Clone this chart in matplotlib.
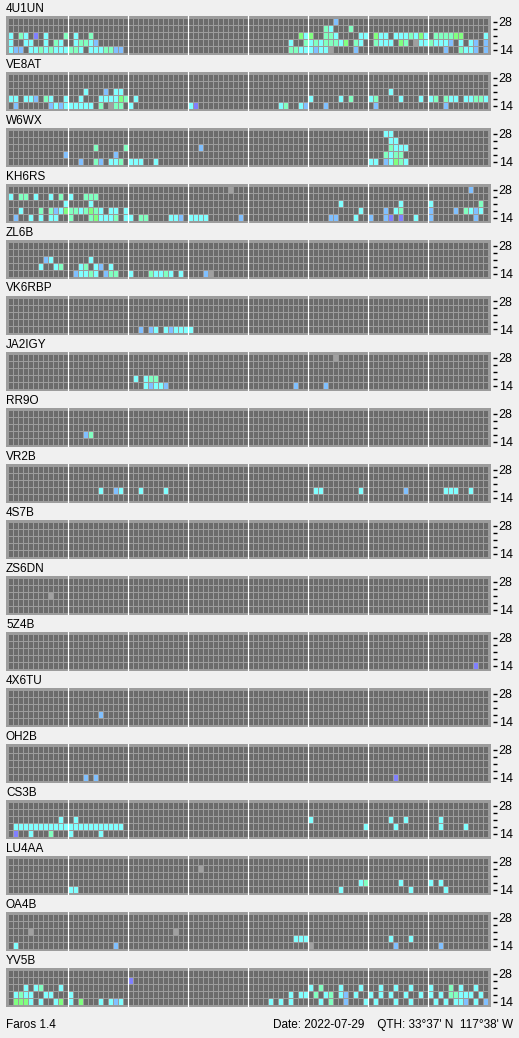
import numpy as np
import matplotlib
matplotlib.use("Agg")
from matplotlib import pyplot as plt
from matplotlib.colors import ListedColormap

# beacon callsigns, top to bottom
beacons = ["4U1UN", "VE8AT", "W6WX", "KH6RS", "ZL6B", "VK6RBP", "JA2IGY", "RR9O", "VR2B",
           "4S7B", "ZS6DN", "5Z4B", "4X6TU", "OH2B", "CS3B", "LU4AA", "OA4B", "YV5B"]
band_labels = ["28", "", "", "", "14"]   # rows 28/24/21/18/14 MHz
ncol = 96

# heard slots per band row (28 MHz first); token = column + level code
# . none, c cyan, g aqua, G green, b blue, p purple, x grey
b_4U1UN = ["65b",
           "63g 64c 68g",
           "0c 2g 3c 5p 7c 11g 13c 16g 58G 59c 60G 63g 64g 65c 70c 71c 73G 74c 75c 77c 78c 79c "
           "80g 81c 82G 83c 85g 86g 87g 88g 89G 90G 95c",
           "0c 3c 4c 7c 9g 10c 13c 14g 15g 16c 17b 56c 59g 60c 61g 62c 63g 64g 65g 66c 67G 69g "
           "70c 73g 74c 75c 76c 78G 79g 81x 82c 83c 84g 85c 86c 87c 88b 90c 92c 93b 95b",
           "0c 1b 2b 4c 5c 6g 7c 8g 9c 10c 11c 12g 13g 14c 16c 17c 18c 19g 20g 21b 22b 56g 57g "
           "58c 59c 60c 61b 62c 63c 64x 69b 87b 90g 91c 92c 93b 95b"]
b_VE8AT = ["",
           "",
           "15c 19b 21c 22c 76c",
           "0c 1c 3c 4c 5b 7g 8c 11c 14c 18c 19c 20c 21c 22G 23g 25c 60c 66c 68g 72c 73g 78c 82c "
           "84c 85g 87g 88c 89c 91c 92c 93g 94g 95c",
           "1b 8b 9c 10b 11c 12c 13c 14c 15c 16c 18g 20x 21g 22g 24c 36c 37p 54c 55g 58c 59b 63b "
           "73b 87b"]
b_W6WX = ["75c 76c",
          "76c 77c",
          "17g 23g 38b 76g 77c 78c 79c",
          "11b 21b 75g 76c 77g 78g",
          "14b 17g 18b 20c 21c 22g 24c 25c 26c 29c 72c 73c 75b 76c 77G 78g 79c"]
b_KH6RS = ["44x 92b",
           "0c 2g 3g 5c 8c 10g 12c 15g 16g 17g",
           "11c 16c 66c 78c 84c 94g",
           "2c 6g 8g 9b 10c 11G 12g 13g 14c 15g 16G 17g 18c 20c 21c 23c 70c 75b 77c 78g 84b 89b "
           "91g 92c 93b 94c",
           "1b 4c 6c 8c 9c 12g 16g 17G 18c 19c 20c 21g 23c 24c 26g 27g 32c 33c 34b 36c 37c 38c "
           "39c 46b 64b 65b 69c 72b 75b 76p 78p 81c 84b 93b"]
b_ZL6B = ["",
          "",
          "7b 8c 16c",
          "6c 9c 10g 14c 15g 17c 18b 20c",
          "13b 14c 15c 16g 17c 19b 20g 21g 24c 28g 29c 30c 31g 32c 34c 39b 40x"]
b_VK6RBP = ["", "", "", "",
            "26b 28b 29c 31c 32b 33c 34c 35c 36c"]
b_JA2IGY = ["65x",
            "",
            "",
            "25c 27c 28g 29g",
            "27c 28b 29c 30c 31b 57b 63b"]
b_RR9O = ["", "", "", "15b 16g", ""]
b_VR2B = ["",
          "",
          "",
          "18c 21b 22c 26c 31c 61c 62c 70c 79b 87c 88c 89c 92c",
          ""]
b_4S7B = ["", "", "", "", ""]
b_ZS6DN = ["", "", "8x", "", ""]
b_5Z4B = ["", "", "", "", "93p"]
b_4X6TU = ["", "", "", "18b", ""]
b_OH2B = ["", "", "", "", "15b 17b 77p"]
b_CS3B = ["",
          "",
          "10c 13c 60c 76c 79c 86c",
          "1c 2c 3c 4c 5c 6c 7c 8c 9c 10c 11c 12c 13c 14c 15c 16c 17c 18c 19c 20c 21c 22c 71c "
          "77c 86c 91c",
          "1p 4c 8g 12c 18c"]
b_LU4AA = ["",
           "38x",
           "",
           "70c 71g 78c 84c 86c",
           "12c 13c 66c 80c 87c"]
b_OA4B = ["",
          "",
          "4x 33x",
          "57c 58c 59c 76c 80c",
          "1c 21b 60x 77b 86b"]
b_YV5B = ["",
          "24p",
          "3c 5c 6g 10c 60c 62g 66c 70c 74c 77c 80c 84c 88g 90c 93c",
          "1c 2g 3c 4c 7c 8c 12c 56c 58c 59c 61g 63c 64g 66c 67b 69c 72c 74c 76c 79c 82c 84c 86c "
          "88g 89g 90c 91c 92c 94c",
          "1G 2G 3G 4c 6c 9c 10G 12c 14G 18c 20c 21b 22c 52c 54c 56c 62c 64g 67b 71c 73c 77c 80c "
          "85c 87c 89c 90c 91b 93c 95b"]

all_rows = [b_4U1UN, b_VE8AT, b_W6WX, b_KH6RS, b_ZL6B, b_VK6RBP, b_JA2IGY, b_RR9O, b_VR2B,
            b_4S7B, b_ZS6DN, b_5Z4B, b_4X6TU, b_OH2B, b_CS3B, b_LU4AA, b_OA4B, b_YV5B]

codes = ".cgGbpx"
cell_colors = ["#6b6b6b", "#80ffff", "#80ffc0", "#80ff80", "#80c0ff", "#8080ff", "#a0a0a0"]
border = "#9c9c9c"
bg = "#f0f0f0"


def parse(rows):
  grid = np.zeros((5, ncol), dtype=int)
  for r, s in enumerate(rows):
    for tok in s.split():
      grid[r, int(tok[:-1])] = codes.index(tok[-1])
  return grid


W, H = 519, 1038
fig = plt.figure(figsize=(W / 100, H / 100), dpi=100, facecolor=bg)
cmap = ListedColormap(cell_colors)
px = 0.72  # one pixel in points

for i, (name, rows) in enumerate(zip(beacons, all_rows)):
  top = 56 * i
  ax = fig.add_axes([6 / W, 1 - (top + 55) / H, 485 / W, 39 / H])
  ax.set_facecolor(border)
  grid = parse(rows)
  ax.pcolormesh(np.arange(ncol + 1), np.arange(6), grid, cmap=cmap, vmin=-0.5,
                vmax=len(codes) - 0.5, edgecolors=border, linewidth=px)
  for h in range(12, ncol, 12):
    ax.axvline(h, color="white", linewidth=1.2 * px)
  ax.set_xlim(-0.4, ncol + 0.6)
  ax.set_ylim(5 + 2 / 7, -2 / 7)
  for sp in ax.spines.values():
    sp.set_visible(False)
  ax.spines["right"].set_position(("outward", 1.5))
  ax.set_xticks([])
  ax.yaxis.tick_right()
  ax.set_yticks(np.arange(5) + 0.5)
  ax.set_yticklabels(band_labels)
  ax.tick_params(axis="y", length=3, width=1, pad=1, labelsize=9, colors="black")
  for lab in ax.get_yticklabels():
    lab.set_family("Liberation Sans")
  fig.text(6 / W, 1 - (top + 8.5) / H, name, ha="left", va="center", fontsize=8.5,
           family="Liberation Sans")

fig.text(6 / W, 1 - 1025 / H, "Faros 1.4", ha="left", va="center", fontsize=8.5,
         family="Liberation Sans")
fig.text(513 / W, 1 - 1025 / H, "Date: 2022-07-29    QTH: 33°37' N  117°38' W", ha="right",
         va="center", fontsize=8.5, family="Liberation Sans")

fig.savefig("out.png", dpi=100, facecolor=bg)
